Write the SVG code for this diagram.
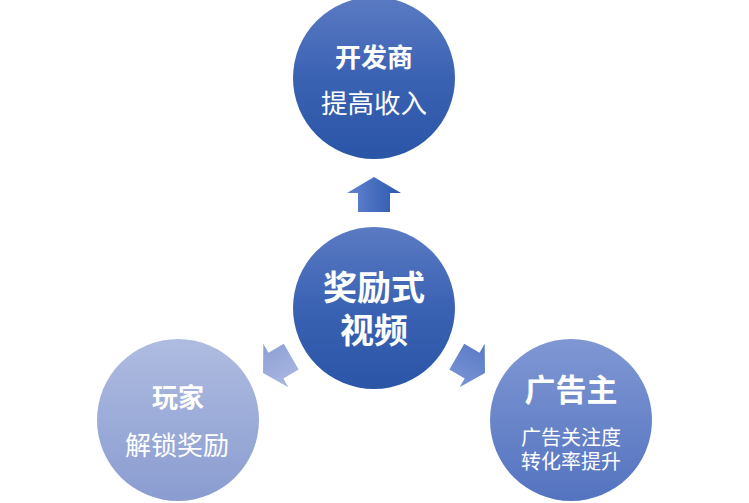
<svg xmlns="http://www.w3.org/2000/svg" width="749" height="503" viewBox="0 0 749 503">
<defs>
<linearGradient id="gDark" x1="0" y1="0" x2="0" y2="1"><stop offset="0" stop-color="#5b7ac3"/><stop offset="0.5" stop-color="#3a62b3"/><stop offset="1" stop-color="#2b55a7"/></linearGradient>
<linearGradient id="gLight" x1="0" y1="0" x2="0" y2="1"><stop offset="0" stop-color="#afbce1"/><stop offset="1" stop-color="#8a9cd0"/></linearGradient>
<linearGradient id="gMid" x1="0" y1="0" x2="0" y2="1"><stop offset="0" stop-color="#7f97d3"/><stop offset="1" stop-color="#5473c0"/></linearGradient>
<linearGradient id="aUp" x1="0" y1="0" x2="1" y2="0"><stop offset="0" stop-color="#6483d0"/><stop offset="1" stop-color="#2c59ae"/></linearGradient>
<linearGradient id="aLeft" x1="0" y1="0" x2="1" y2="0"><stop offset="0" stop-color="#aab8e2"/><stop offset="1" stop-color="#8c9ed3"/></linearGradient>
<linearGradient id="aRight" x1="0" y1="0" x2="1" y2="0"><stop offset="0" stop-color="#5878c4"/><stop offset="1" stop-color="#7a95d4"/></linearGradient>
<path id="arrow" d="M0 0 L27 16 L16 16 L16 35 L-16 35 L-16 16 L-27 16 Z"/>
</defs>
<style>
text{font-family:"Noto Sans CJK SC","Noto Sans",sans-serif;fill:#ffffff;text-anchor:middle}
.b{font-weight:bold}
</style>
<rect width="749" height="503" fill="#ffffff"/>
<g id="connectors">
<use href="#arrow" fill="url(#aUp)" transform="translate(374,177)"/>
<use href="#arrow" fill="url(#aLeft)" transform="translate(263,373) rotate(-120) scale(0.93)"/>
<use href="#arrow" fill="url(#aRight)" transform="translate(485,373) rotate(120) scale(0.93)"/>
</g>
<g id="developer">
<circle cx="374" cy="78" r="81" fill="url(#gDark)"/>
<text class="b" x="374" y="67" font-size="26">开发商</text>
<text x="374" y="113" font-size="26.5">提高收入</text>
</g>
<g id="center">
<circle cx="374" cy="308" r="81" fill="url(#gDark)"/>
<text class="b" x="374" y="300" font-size="34">奖励式</text>
<text class="b" x="374" y="343" font-size="34">视频</text>
</g>
<g id="player">
<circle cx="178" cy="420" r="81" fill="url(#gLight)"/>
<text class="b" x="178" y="407" font-size="26">玩家</text>
<text x="177" y="455" font-size="26">解锁奖励</text>
</g>
<g id="advertiser">
<circle cx="571" cy="420" r="81" fill="url(#gMid)"/>
<text class="b" x="571" y="401" font-size="31">广告主</text>
<text x="571" y="445" font-size="20">广告关注度</text>
<text x="571" y="469" font-size="20">转化率提升</text>
</g>
</svg>
